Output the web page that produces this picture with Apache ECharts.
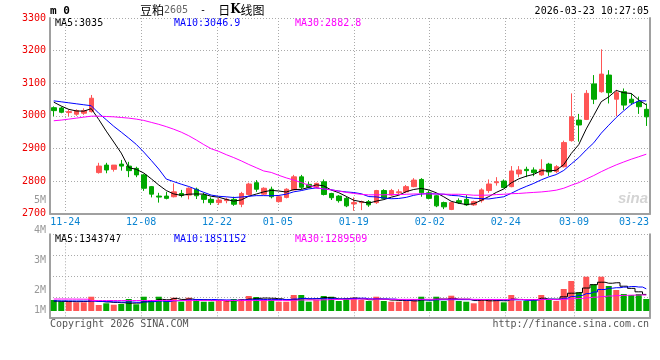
<!DOCTYPE html>
<html><head><meta charset="utf-8">
<script src="https://cdn.jsdelivr.net/npm/echarts@6/dist/echarts.min.js"></script>
<style>html,body{margin:0;padding:0;background:#fff}#c{width:660px;height:360px}</style>
</head><body><div id="c"></div>
<script>
const dates = ['11-20','11-21','11-24','11-25','11-26','11-27','11-28','12-01','12-02','12-03',
'12-04','12-05','12-08','12-09','12-10','12-11','12-12','12-15','12-16','12-17',
'12-18','12-19','12-22','12-23','12-24','12-25','12-26','12-29','12-30','12-31',
'01-05','01-06','01-07','01-08','01-09','01-12','01-13','01-14','01-15','01-16',
'01-19','01-20','01-21','01-22','01-23','01-26','01-27','01-28','01-29','01-30',
'02-02','02-03','02-04','02-05','02-06','02-09','02-10','02-11','02-12','02-13',
'02-24','02-25','02-26','02-27','03-02','03-03','03-04','03-05','03-06','03-09',
'03-10','03-11','03-12','03-13','03-16','03-17','03-18','03-19','03-20','03-23'];
const labelDates = ['11-24','12-08','12-22','01-05','01-19','02-02','02-24','03-09','03-23'];
const opens = [3025,3024,3010,3005,3008,3013,2826,2849,2836,2852,
2846,2839,2819,2783,2754,2754,2752,2762,2757,2775,
2757,2744,2734,2740,2744,2729,2759,2795,2760,2775,
2737,2750,2773,2813,2790,2781,2798,2762,2754,2747,
2730,2734,2737,2734,2771,2757,2764,2767,2783,2805,
2764,2755,2734,2713,2740,2744,2727,2740,2771,2795,
2800,2783,2822,2836,2834,2819,2852,2829,2844,2924,
2987,2989,3098,3074,3125,3051,3074,3051,3043,3020];
const closes = [3016,3011,3013,3016,3016,3054,2846,2834,2849,2846,
2832,2819,2778,2760,2751,2747,2767,2756,2778,2755,
2744,2734,2742,2744,2729,2762,2791,2775,2778,2752,
2752,2775,2813,2781,2781,2793,2759,2749,2740,2724,
2734,2737,2727,2771,2747,2771,2767,2783,2803,2764,
2747,2724,2721,2734,2734,2727,2737,2773,2791,2798,
2780,2831,2834,2832,2826,2836,2828,2844,2918,2997,
2972,3069,3051,3128,3071,3071,3033,3040,3028,2997];
const lows = [2999,3008,2999,3000,3003,3010,2823,2824,2829,2832,
2812,2812,2770,2750,2734,2744,2750,2750,2744,2745,
2732,2727,2727,2732,2724,2720,2756,2767,2757,2747,
2734,2747,2771,2775,2778,2778,2756,2742,2734,2720,
2709,2711,2721,2730,2744,2754,2757,2764,2781,2752,
2744,2720,2714,2711,2730,2724,2724,2734,2764,2786,
2778,2781,2812,2812,2815,2816,2816,2824,2842,2921,
2921,2987,3036,3071,3038,2999,3018,3033,3006,2969];
const highs = [3029,3028,3020,3020,3023,3064,2856,2856,2849,2865,
2859,2844,2822,2785,2764,2767,2793,2773,2781,2780,
2764,2750,2748,2749,2752,2767,2795,2803,2781,2783,
2757,2778,2819,2819,2798,2795,2805,2764,2757,2752,
2750,2740,2742,2773,2775,2776,2775,2788,2809,2809,
2771,2757,2737,2737,2747,2757,2740,2778,2805,2812,
2805,2846,2846,2844,2842,2867,2856,2849,2924,3069,
3006,3079,3125,3204,3140,3079,3084,3069,3059,3038];
const volumes = [917000,775000,834000,725000,725000,1192000,500000,642000,525000,584000,
1001000,559000,1192000,917000,1192000,834000,1109000,775000,1109000,917000,
775000,775000,917000,834000,1001000,1001000,1251000,1167000,976000,917000,
775000,775000,1334000,1334000,775000,942000,1251000,1192000,834000,1001000,
1109000,917000,834000,1192000,834000,775000,775000,834000,1001000,1192000,
775000,1192000,834000,1276000,834000,775000,642000,1001000,1001000,917000,
725000,1334000,834000,834000,1001000,1334000,917000,834000,1834000,2501000,
1559000,2860000,2226000,2860000,2085000,1751000,1417000,1334000,1417000,1001000];
// MA values before a full window is available
const ma5Lead = [3042,3030,3020,3015];
const ma10Lead = [3046,3043,3040,3037,3034,3031,3008,2988,2968];
const ma30Lead = [2985,2987,2990,2993,2996,2999,2999,2998,2997,2995,
2993,2990,2986,2980,2974,2967,2959,2950,2939,2926,
2912,2899,2891,2881,2872,2862,2851,2841,2831];
const vma5Lead = [820000,800000,790000,780000];
const vma10Lead = [850000,845000,840000,835000,830000,830000,800000,780000,760000];
const vma30Lead = [1000000,1000000,995000,990000,985000,875000,875000,875000,875000,875000,
875000,875000,875000,875000,875000,880000,880000,880000,880000,880000,
880000,880000,880000,880000,880000,880000,880000,880000,880000];
const priceLegend = ['MA5:3035','MA10:3046.9','MA30:2882.8'];
const volLegend = ['MA5:1343747','MA10:1851152','MA30:1289509'];
const volTickLabels = ['1M','2M','3M','4M','5M'];

function ma(vals, n, lead){
  return vals.map((v,i)=>{
    if(i < n-1) return lead[i];
    let s=0; for(let k=i-n+1;k<=i;k++) s+=vals[k];
    return +(s/n).toFixed(2);
  });
}
const UP='#ff5555', DOWN='#00a800';
const MONO='"DejaVu Sans Mono", monospace';
const GRIDC='#aaaaaa', AXC='#a0a0a0';
const isLbl = (i,v)=>labelDates.indexOf(v)>=0;

const candle = dates.map((d,i)=>[opens[i],closes[i],lows[i],highs[i]]);
const volData = volumes.map((v,i)=>({value:v,itemStyle:{color: closes[i]>=opens[i]?UP:DOWN}}));

const chart = echarts.init(document.getElementById('c'),null,{renderer:'canvas'});
const hiddenX = (gi)=>({type:'category',gridIndex:gi,data:dates,boundaryGap:true,show:false,position:'bottom'});
const lineS = (name,data,color,xi,yi,step)=>({type:'line',name,data,xAxisIndex:xi,yAxisIndex:yi,
  symbol:'none',step:step||false,lineStyle:{color,width:1},itemStyle:{color},z:5,silent:true});
const txt = (x,y,text,fill,align,extra)=>({type:'text',x,y,silent:true,
  style:Object.assign({text,fill,font:'10px '+MONO,align:align||'left',verticalAlign:'middle'},extra||{})});

chart.setOption({
  animation:false,
  backgroundColor:'#fff',
  grid:[
    {left:50,width:600,top:18,height:195.7,outerBoundsMode:'none'},
    {left:50,width:600,top:234.3,height:76.7,outerBoundsMode:'none'},
    {left:50,width:600,top:234.3,height:83.4,outerBoundsMode:'none'},
    {left:50,width:600,top:200,height:120.7,outerBoundsMode:'none'}
  ],
  xAxis:[
    hiddenX(0),
    {type:'category',gridIndex:0,data:dates,boundaryGap:false,position:'bottom',
     axisLine:{onZero:false,lineStyle:{color:AXC,width:2}},axisTick:{show:false},
     axisLabel:{interval:isLbl,color:'#0a84d2',fontFamily:MONO,fontSize:10,margin:4,
       formatter:v=>v===dates[dates.length-1]?'{r|'+v+'}':v,
       rich:{r:{color:'#0a84d2',fontFamily:MONO,fontSize:10,padding:[0,32,0,0]}}},
     splitLine:{show:true,interval:isLbl,lineStyle:{color:GRIDC,type:[1,2]}}},
    hiddenX(1),
    {type:'category',gridIndex:2,data:dates,boundaryGap:false,position:'bottom',
     axisLine:{onZero:false,lineStyle:{color:AXC,width:2}},axisTick:{show:false},axisLabel:{show:false},
     splitLine:{show:true,interval:isLbl,lineStyle:{color:GRIDC,type:[1,2]}}},
    hiddenX(3)
  ],
  yAxis:[
    {type:'value',gridIndex:0,min:2700,max:3300,interval:100,position:'left',
     axisLine:{show:true,lineStyle:{color:AXC,width:2}},axisTick:{show:false},
     axisLabel:{color:'#ee0000',fontFamily:MONO,fontSize:10,margin:4,formatter:v=>String(v)},
     splitLine:{lineStyle:{color:GRIDC,type:[1,2]}}},
    {type:'value',gridIndex:0,min:2700,max:3300,interval:100,position:'right',
     axisLine:{show:true,lineStyle:{color:AXC,width:2}},axisTick:{show:false},
     axisLabel:{show:false},splitLine:{show:false}},
    {type:'value',gridIndex:1,min:0,max:6400000,show:false,splitLine:{show:false}},
    {type:'value',gridIndex:2,min:0,max:4,interval:1,position:'left',
     axisLine:{show:true,lineStyle:{color:AXC,width:2}},axisTick:{show:false},
     axisLabel:{show:false},splitLine:{lineStyle:{color:GRIDC,type:[1,2]}}},
    {type:'value',gridIndex:2,min:0,max:4,interval:1,position:'right',
     axisLine:{show:true,lineStyle:{color:AXC,width:2}},axisTick:{show:false},
     axisLabel:{show:false},splitLine:{show:false}},
    {type:'value',gridIndex:3,min:1,max:5,interval:1,position:'left',
     axisLine:{show:false},axisTick:{show:false},splitLine:{show:false},
     axisLabel:{color:'#999',fontFamily:MONO,fontSize:10,margin:4,showMinLabel:true,showMaxLabel:true,
       formatter:v=>{const s=volTickLabels[v-1];return v===1?'{u|'+s+'}':s;},
       rich:{u:{color:'#999',fontFamily:MONO,fontSize:10,padding:[0,0,20,0]}}}}
  ],
  series:[
    {type:'candlestick',xAxisIndex:0,yAxisIndex:0,data:candle,barWidth:5,
     itemStyle:{color:UP,color0:DOWN,borderColor:UP,borderColor0:DOWN,borderWidth:1},z:3,silent:true},
    lineS('MA5',ma(closes,5,ma5Lead),'#000000',0,0),
    lineS('MA10',ma(closes,10,ma10Lead),'#0000ff',0,0),
    lineS('MA30',ma(closes,30,ma30Lead),'#ff00ff',0,0),
    {type:'bar',xAxisIndex:2,yAxisIndex:2,data:volData,barWidth:6,silent:true},
    lineS('VMA5',ma(volumes,5,vma5Lead),'#000000',2,2,'middle'),
    lineS('VMA10',ma(volumes,10,vma10Lead),'#0000ff',2,2,'middle'),
    lineS('VMA30',ma(volumes,30,vma30Lead),'#ff00ff',2,2,'middle')
  ],
  graphic:[
    txt(50,11,'m 0','#000','left',{font:'bold 11px '+MONO}),
    {type:'text',x:140,y:10,silent:true,style:{
      text:'{a|豆粕}{b|2605}{c|  -  }{a|日}{k|K}{a|线图}',verticalAlign:'middle',
      rich:{a:{fontSize:12,fontFamily:'"Noto Sans CJK SC"',fill:'#000'},
            b:{fontSize:10,fontFamily:MONO,fill:'#666'},
            c:{fontSize:10,fontFamily:MONO,fill:'#000'},
            k:{fontSize:12,fontFamily:'"DejaVu Serif"',fontWeight:'bold',fill:'#000'}}}},
    txt(649,11.5,'2026-03-23 10:27:05','#000','right'),
    txt(55,23.5,priceLegend[0],'#000'),
    txt(174,23.5,priceLegend[1],'#0000ff'),
    txt(295,23.5,priceLegend[2],'#ff00ff'),
    txt(55,239,volLegend[0],'#000'),
    txt(174,239,volLegend[1],'#0000ff'),
    txt(295,239,volLegend[2],'#ff00ff'),
    txt(50,324,'Copyright 2026 SINA.COM','#555'),
    txt(649,324,'http://finance.sina.com.cn','#555','right'),
    txt(648,199,'sina','#d4d4d4','right',{font:'italic bold 15px "Liberation Sans"'})
  ]
});
</script></body></html>
